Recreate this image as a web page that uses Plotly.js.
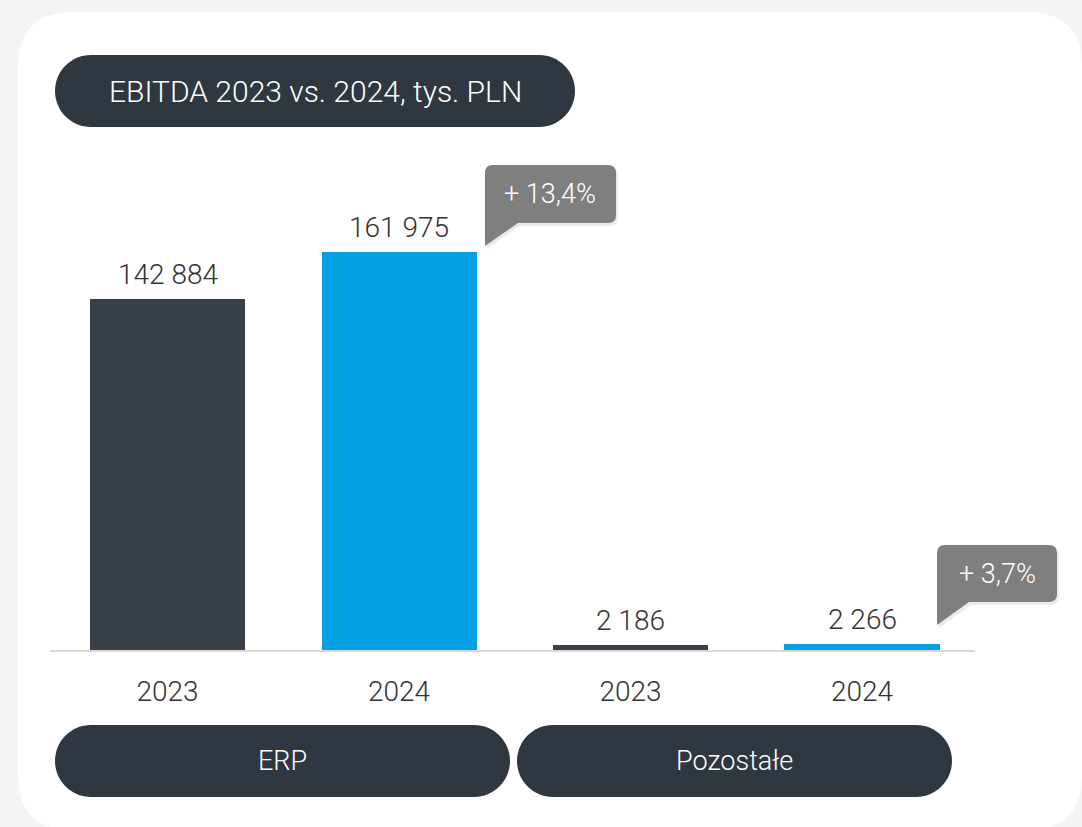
<!DOCTYPE html>
<html>
<head>
<meta charset="utf-8">
<script src="https://cdn.plot.ly/plotly-3.0.1.min.js"></script>
<style>
html,body{margin:0;padding:0;background:#f4f4f4;}
#chart{width:1082px;height:827px;}
</style>
</head>
<body>
<div id="chart"></div>
<script>
// ---- data ----
const titleText = 'EBITDA 2023 vs. 2024, tys. PLN';
const groups = ['ERP', 'Pozostałe'];
const years = ['2023', '2024', '2023', '2024'];
const values = [142884, 161975, 2186, 2266];
const valueLabels = ['142 884', '161 975', '2 186', '2 266'];
const changes = ['+ 13,4%', '+ 3,7%'];

// ---- helpers (pixel -> paper) ----
const W = 1082, H = 827;
const X = x => x / W;
const Y = y => 1 - y / H;
const P = (x, y) => `${X(x).toFixed(5)},${Y(y).toFixed(5)}`;
function roundRect(x0, y0, x1, y1, r) {
  return `M${P(x0, y0 + r)} Q${P(x0, y0)} ${P(x0 + r, y0)} L${P(x1 - r, y0)} ` +
    `Q${P(x1, y0)} ${P(x1, y0 + r)} L${P(x1, y1 - r)} Q${P(x1, y1)} ${P(x1 - r, y1)} ` +
    `L${P(x0 + r, y1)} Q${P(x0, y1)} ${P(x0, y1 - r)} Z`;
}
function pill(x0, y0, x1, y1) {
  const r = (y1 - y0) / 2, k = 0.5523 * r;
  return `M${P(x0 + r, y0)} L${P(x1 - r, y0)} ` +
    `C${P(x1 - r + k, y0)} ${P(x1, y0 + r - k)} ${P(x1, y0 + r)} ` +
    `C${P(x1, y0 + r + k)} ${P(x1 - r + k, y1)} ${P(x1 - r, y1)} ` +
    `L${P(x0 + r, y1)} ` +
    `C${P(x0 + r - k, y1)} ${P(x0, y1 - r + k)} ${P(x0, y1 - r)} ` +
    `C${P(x0, y0 + r - k)} ${P(x0 + r - k, y0)} ${P(x0 + r, y0)} Z`;
}
function callout(x0, y0, x1, y1, r, jx, tipY) {
  return `M${P(x0, y0 + r)} Q${P(x0, y0)} ${P(x0 + r, y0)} L${P(x1 - r, y0)} ` +
    `Q${P(x1, y0)} ${P(x1, y0 + r)} L${P(x1, y1 - r)} Q${P(x1, y1)} ${P(x1 - r, y1)} ` +
    `L${P(jx, y1)} L${P(x0, tipY)} Z`;
}

const FONT = 'Roboto, "Liberation Sans", sans-serif';
const dark = '#394048';
const blue = '#04a0e4';
const pillColor = '#2f3740';
const calloutColor = '#7f7f7f';

const xs = values.map((v, i) => i);

const trace = {
  type: 'bar',
  x: xs,
  y: values,
  width: 0.67,
  marker: { color: xs.map(i => i % 2 === 0 ? dark : blue) },
  hoverinfo: 'none'
};

const shapes = [
  { type: 'path', xref: 'paper', yref: 'paper', layer: 'below', path: roundRect(18, 12, 1082, 830, 55), fillcolor: '#ffffff', line: { width: 0 } },
  { type: 'path', xref: 'paper', yref: 'paper', layer: 'below', path: pill(55, 55, 575, 127), fillcolor: pillColor, line: { width: 0 } },
  { type: 'path', xref: 'paper', yref: 'paper', layer: 'below', path: pill(55, 725, 510, 797), fillcolor: pillColor, line: { width: 0 } },
  { type: 'path', xref: 'paper', yref: 'paper', layer: 'below', path: pill(517, 725, 952, 797), fillcolor: pillColor, line: { width: 0 } },
  // callout shadows
  { type: 'path', xref: 'paper', yref: 'paper', layer: 'above', path: callout(487, 168, 618, 226, 8, 519, 249), fillcolor: 'rgba(0,0,0,0.08)', line: { width: 0 } },
  { type: 'path', xref: 'paper', yref: 'paper', layer: 'above', path: callout(939, 548, 1059, 605, 8, 971, 628), fillcolor: 'rgba(0,0,0,0.08)', line: { width: 0 } },
  { type: 'path', xref: 'paper', yref: 'paper', layer: 'above', path: callout(485, 165, 616, 223, 8, 518, 246), fillcolor: calloutColor, line: { width: 0 } },
  { type: 'path', xref: 'paper', yref: 'paper', layer: 'above', path: callout(937, 545, 1057, 602, 8, 969, 625), fillcolor: calloutColor, line: { width: 0 } }
];

const annotations = [];
values.forEach((v, i) => {
  annotations.push({
    x: i, y: v, xref: 'x', yref: 'y', text: valueLabels[i], showarrow: false,
    yanchor: 'bottom', yshift: 6,
    font: { family: FONT, size: 28, color: '#333333', weight: 300 }
  });
});
const paperText = (px, py, text, size) => ({
  x: X(px), y: Y(py), xref: 'paper', yref: 'paper', text: text, showarrow: false,
  xanchor: 'center', yanchor: 'middle',
  font: { family: FONT, size: size, color: '#ffffff', weight: 300 }
});
annotations.push(paperText(550, 194, changes[0], 27));
annotations.push(paperText(997, 574, changes[1], 27));
annotations.push(paperText(315, 91, titleText, 30));
annotations.push(paperText(282, 761, groups[0], 27));
annotations.push(paperText(734, 761, groups[1], 27));

const layout = {
  width: W, height: H,
  margin: { l: 0, r: 0, t: 0, b: 0 },
  paper_bgcolor: '#f4f4f4',
  plot_bgcolor: 'rgba(0,0,0,0)',
  showlegend: false,
  xaxis: {
    domain: [50 / W, 975 / W],
    range: [-0.508, 3.488],
    tickvals: xs, ticktext: years,
    showgrid: false, zeroline: false,
    showline: true, linecolor: '#d9d9d9', linewidth: 2,
    ticks: '', ticklabelstandoff: 15,
    tickfont: { family: FONT, size: 28, color: '#333333', weight: 300 },
    fixedrange: true
  },
  yaxis: {
    domain: [1 - 650 / H, 1 - 250 / H],
    range: [0, 161975 * 400 / 398],
    showgrid: false, zeroline: false, showline: false, showticklabels: false, ticks: '',
    fixedrange: true
  },
  shapes: shapes,
  annotations: annotations,
  bargap: 0
};

Plotly.newPlot('chart', [trace], layout, { displayModeBar: false, staticPlot: true });
</script>
</body>
</html>
